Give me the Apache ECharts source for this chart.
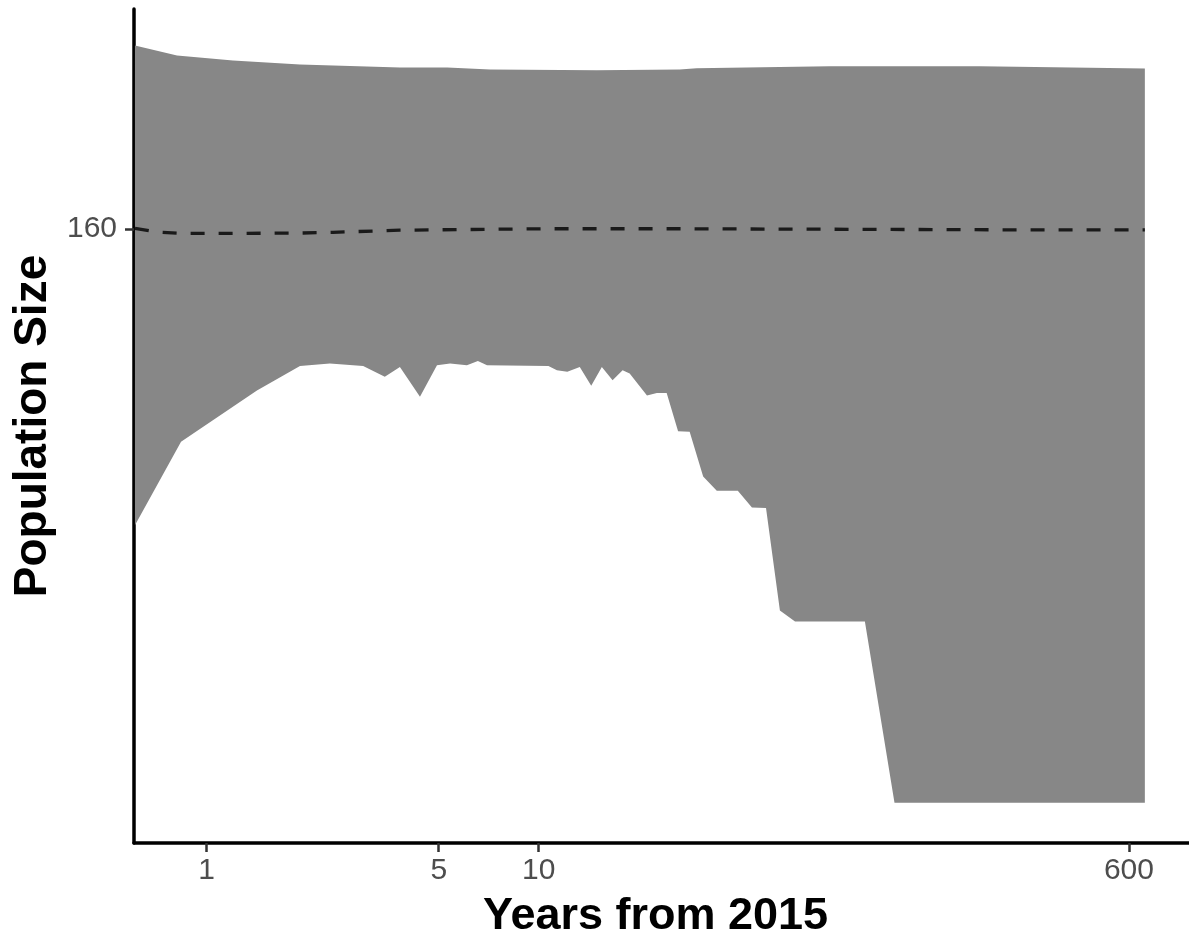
<!DOCTYPE html>
<html>
<head>
<meta charset="utf-8">
<script src="https://cdn.jsdelivr.net/npm/echarts@6/dist/echarts.min.js"></script>
<style>
  html, body { margin: 0; padding: 0; background: #ffffff; }
  #chart { width: 1189px; height: 944px; }
</style>
</head>
<body>
<div id="chart"></div>
<script>
// Lower edge of the simulated population envelope (years from 2015, individuals)
const lowerYears = [0.608, 0.837, 1.417, 1.91, 2.35, 2.96, 3.44, 3.82, 4.39, 4.94, 5.41, 6.08, 6.56, 6.99,
  10.7, 11.35, 12.2, 13.3, 14.4, 15.5, 16.7, 17.9, 18.8, 21.2, 22.7, 24.3, 26.3, 28.5, 31.3, 34.4,
  39.8, 43.9, 48.4, 53.3, 59.2, 96.1, 118, 670];
const lowerPop = [77.4, 100.7, 115.0, 121.8, 122.5, 121.8, 118.8, 121.5, 113.2, 122.0, 122.5, 122.0, 123.2, 122.0,
  121.8, 120.6, 120.2, 121.5, 116.3, 121.5, 117.8, 120.6, 119.7, 113.6, 114.3, 114.3, 103.6, 103.5, 91.0, 87.0,
  87.0, 82.3, 82.2, 53.6, 50.5, 50.5, 0, 0];

// Upper edge of the envelope
const upperYears = [0.608, 0.814, 1.20, 1.91, 3.82, 5.30, 7.14, 14.95, 26.6, 29.9, 75.3, 213, 670];
const upperPop = [211.2, 208.4, 207.0, 205.9, 205.1, 205.1, 204.5, 204.3, 204.5, 204.9, 205.4, 205.4, 204.8];

// Median trajectory
const medianYears = [0.608, 0.708, 0.849, 1.20, 1.91, 2.40, 3.82, 10.6, 26.6, 53.3, 268, 670];
const medianPop = [160.2, 159.2, 158.8, 158.8, 158.9, 159.1, 159.7, 160.1, 160.1, 160.0, 159.8, 159.8];

// Axis tick labels
const xTicks = [1, 5, 10, 600];
const yTicks = [160];

const upperPts = upperYears.map((x, i) => [x, upperPop[i]]);
const lowerPts = lowerYears.map((x, i) => [x, lowerPop[i]]);
const medianPts = medianYears.map((x, i) => [x, medianPop[i]]);

const FONT = '"Liberation Sans", Arial, Helvetica, sans-serif';

const chart = echarts.init(document.getElementById('chart'), null, { renderer: 'canvas' });
chart.setOption({
  animation: false,
  backgroundColor: '#ffffff',
  grid: { left: 134, right: 0, top: 9, bottom: 98 },
  xAxis: {
    type: 'log',
    logBase: 10,
    min: 0.604,
    max: 910,
    name: 'Years from 2015',
    nameLocation: 'middle',
    nameGap: 51,
    nameTextStyle: { fontFamily: FONT, fontSize: 45, fontWeight: 'bold', color: '#000000', padding: [0, 12, 0, 0] },
    axisLine: { show: true, onZero: false, lineStyle: { color: '#000000', width: 3.5 } },
    axisTick: { show: true, length: 9, customValues: xTicks, lineStyle: { color: '#333333', width: 2.5 } },
    axisLabel: {
      show: true, customValues: xTicks, margin: 13,
      fontFamily: FONT, fontSize: 30, color: '#4D4D4D',
      formatter: v => String(Math.round(v))
    },
    splitLine: { show: false },
    minorTick: { show: false }
  },
  yAxis: {
    type: 'value',
    min: -11.26,
    max: 221.4,
    name: 'Population Size',
    nameLocation: 'middle',
    nameGap: 76,
    nameRotate: 90,
    nameTextStyle: { fontFamily: FONT, fontSize: 46, fontWeight: 'bold', color: '#000000' },
    axisLine: { show: true, onZero: false, lineStyle: { color: '#000000', width: 3.5 } },
    axisTick: { show: true, length: 9, customValues: yTicks, lineStyle: { color: '#333333', width: 2.5 } },
    axisLabel: {
      show: true, customValues: yTicks, margin: 17,
      fontFamily: FONT, fontSize: 30, color: '#4D4D4D'
    },
    splitLine: { show: false }
  },
  series: [
    {
      // Envelope between the upper and lower bounds, drawn as one polygon
      type: 'custom',
      silent: true,
      z: 1,
      data: [[upperYears[0], upperPop[0]]],
      renderItem: (params, api) => {
        const pts = upperPts.map(p => api.coord(p))
          .concat(lowerPts.slice().reverse().map(p => api.coord(p)));
        return { type: 'polygon', shape: { points: pts }, style: { fill: '#878787' } };
      }
    },
    {
      type: 'line',
      z: 3,
      data: medianPts,
      showSymbol: false,
      silent: true,
      lineStyle: { color: '#1a1a1a', width: 3.3, type: [14, 14] }
    }
  ]
});
</script>
</body>
</html>
